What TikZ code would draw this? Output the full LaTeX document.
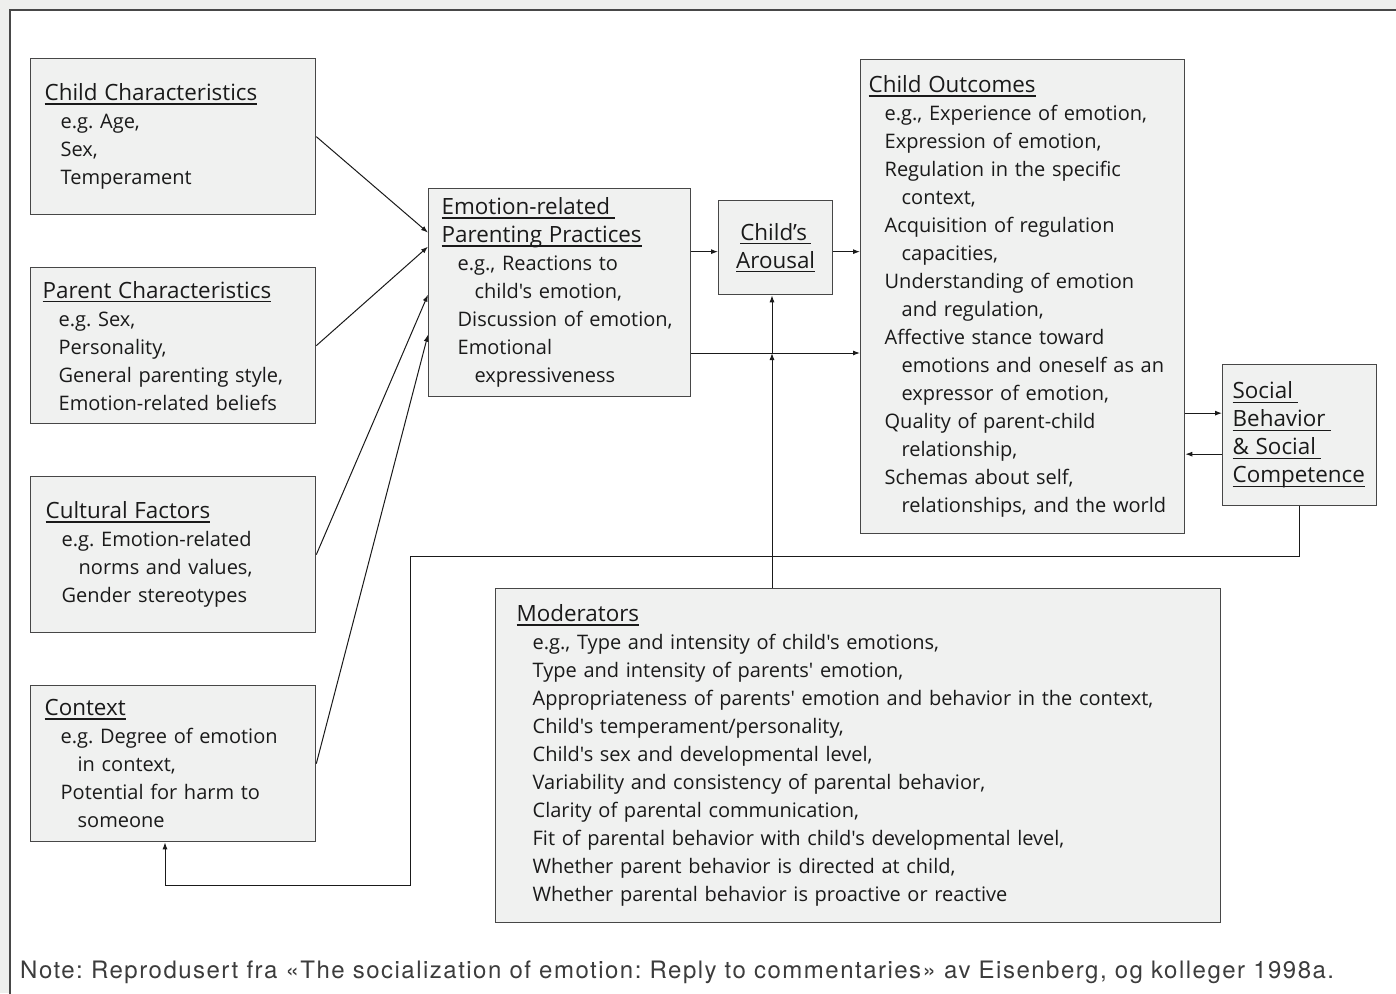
\documentclass[tikz,border=0pt]{standalone}
\usepackage{fontspec}
\usepackage{tikz}
\usetikzlibrary{arrows.meta}
\newfontfamily\boxfont{Open Sans}
\newfontfamily\notefont{TeX Gyre Heros}[LetterSpace=6.2]
\definecolor{pagebg}{HTML}{EEEFED}
\definecolor{boxfill}{HTML}{F0F1F0}
\definecolor{boxline}{HTML}{474747}
\definecolor{ink}{HTML}{1A1A1A}
\definecolor{noteink}{HTML}{3C3C3C}
\newcommand{\hd}[1]{\leavevmode{\fontsize{22.4}{28}\selectfont\setbox0\hbox{#1}\rlap{\rule[-4pt]{\wd0}{1.3pt}}\box0}}
\newcommand{\ia}{\hspace*{16pt}}
\newcommand{\ib}{\hspace*{33pt}}
\frenchspacing

\begin{document}
\begin{tikzpicture}[
    x=1pt, y=-1pt,
    box/.style={draw=boxline, fill=boxfill, line width=1.3pt, anchor=north west, align=left,
                inner xsep=14pt, inner ysep=0pt, text=ink, font=\boxfont\fontsize{20}{28}\selectfont},
    arr/.style={-{Latex[length=7pt, width=5pt]}, line width=1pt, draw=ink},
    frame/.style={draw=boxline, line width=2pt, fill=white},
  ]
  \path[use as bounding box, fill=pagebg] (0,0) rectangle (1396,993);
  \clip (0,0) rectangle (1396,993);
  \draw[frame] (10,10) rectangle (1410,1010);
  % ── left column ──
  \node[box, text width=257pt, minimum height=156pt] (cc) at (30,58)
    {\hd{Child Characteristics}\\ \ia e.g. Age,\\ \ia Sex,\\ \ia Temperament};
  \node[box, inner xsep=12pt, text width=261pt, minimum height=156pt] (pc) at (30,267)
    {\hd{Parent Characteristics}\\ \ia e.g. Sex,\\ \ia Personality,\\
     \ia General parenting style,\\ \ia Emotion-related beliefs};
  \node[box, inner xsep=15pt, text width=255pt, minimum height=156pt] (cf) at (30,476)
    {\hd{Cultural Factors}\\ \ia e.g. Emotion-related\\ \ib norms and values,\\ \ia Gender stereotypes};
  \node[box, text width=257pt, minimum height=156pt] (cx) at (30,685)
    {\hd{Context}\\ \ia e.g. Degree of emotion\\ \ib in context,\\
     \ia Potential for harm to\\ \ib someone};
  % ── middle ──
  \node[box, inner xsep=13pt, text width=236pt, minimum height=208pt] (ep) at (428,188)
    {\hd{Emotion-related\hspace{5pt}}\\ \hd{Parenting Practices}\\ \ia e.g., Reactions to\\
     \ib child's emotion,\\ \ia Discussion of emotion,\\ \ia Emotional\\ \ib expressiveness};
  \node[box, align=center, text width=86pt, minimum height=94pt] (ar) at (718,200)
    {\hd{Child’s\hspace{4pt}}\\ \hd{Arousal}};
  \node[box, inner xsep=8pt, text width=308pt, minimum height=474pt] (co) at (860,59)
    {\hd{Child Outcomes}\\ \ia e.g., Experience of emotion,\\ \ia Expression of emotion,\\
     \ia Regulation in the specific\\ \ib context,\\ \ia Acquisition of regulation\\
     \ib capacities,\\ \ia Understanding of emotion\\ \ib and regulation,\\
     \ia Affective stance toward\\ \ib emotions and oneself as an\\ \ib expressor of emotion,\\
     \ia Quality of parent-child\\ \ib relationship,\\ \ia Schemas about self,\\
     \ib relationships, and the world};
  \node[box, inner xsep=10pt, text width=134pt, minimum height=141pt] (sb) at (1222,364)
    {\hd{Social\hspace{5pt}}\\ \hd{Behavior\hspace{5pt}}\\ \hd{\& Social\hspace{5pt}}\\ \hd{Competence}};
  \node[box, inner xsep=21pt, text width=683pt, minimum height=334pt] (mo) at (495,588)
    {\hd{Moderators}\\ \ia e.g., Type and intensity of child's emotions,\\
     \ia Type and intensity of parents' emotion,\\
     \ia Appropriateness of parents' emotion and behavior in the context,\\
     \ia Child's temperament/personality,\\ \ia Child's sex and developmental level,\\
     \ia Variability and consistency of parental behavior,\\
     \ia Clarity of parental communication,\\
     \ia Fit of parental behavior with child's developmental level,\\
     \ia Whether parent behavior is directed at child,\\
     \ia Whether parental behavior is proactive or reactive};
  % ── connectors ──
  \foreach \a/\s in {cc/60, pc/46, cf/-2, cx/-42}
    \draw[arr] (\a.east) -- ([yshift=\s]ep.west);
  \coordinate (a1) at ([yshift=-4]ar.west);
  \coordinate (m) at (772,353);
  \draw[arr] (ep.east |- a1) -- (a1);
  \draw[arr] (ar.east |- a1) -- (co.west |- a1);
  \draw[arr] (ep.east |- m) -- (co.west |- m);
  \draw[arr] (mo.north -| m) -- (m);
  \draw[arr] (m) -- (ar.south -| m);
  \coordinate (s1) at ([yshift=22]sb.west);
  \coordinate (s2) at ([yshift=-19]sb.west);
  \draw[arr] (co.east |- s1) -- (s1);
  \draw[arr] (s2) -- (co.east |- s2);
  \coordinate (f1) at (410,556);
  \coordinate (f2) at (165,885);
  \draw[arr] (sb.south) |- (f1) |- (f2) -- (cx.south -| f2);
  % ── note ──
  \node[anchor=base west, inner sep=0pt, text=noteink, font=\notefont\fontsize{24}{28}\selectfont] (note) at (20,978)
    {Note: Reprodusert fra «The socialization of emotion: Reply to commentaries» av Eisenberg, og kolleger 1998a.};
\end{tikzpicture}
\end{document}
